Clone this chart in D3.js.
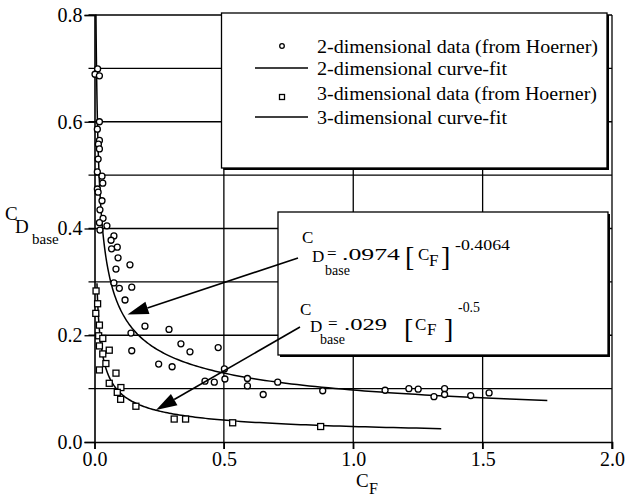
<!DOCTYPE html>
<html>
<head>
<meta charset="utf-8">
<script src="https://cdn.jsdelivr.net/npm/d3@7"></script>
<style>
  body { margin: 0; background: #fff; }
</style>
</head>
<body>
<div id="chart"></div>
<script>
/* 2-dimensional data (from Hoerner): [C_F, C_D_base] */
const data2D = [
  [0.012, 0.699], [0.002, 0.689], [0.019, 0.686], [0.019, 0.600], [0.011, 0.586],
  [0.019, 0.565], [0.015, 0.558], [0.019, 0.549], [0.014, 0.530], [0.011, 0.506],
  [0.029, 0.498], [0.032, 0.485], [0.011, 0.474], [0.014, 0.468], [0.029, 0.452],
  [0.021, 0.435], [0.033, 0.419], [0.019, 0.411], [0.048, 0.405], [0.021, 0.397],
  [0.075, 0.386], [0.064, 0.378], [0.088, 0.365], [0.066, 0.362], [0.091, 0.345],
  [0.137, 0.332], [0.083, 0.324], [0.075, 0.298], [0.096, 0.288], [0.144, 0.290],
  [0.118, 0.266], [0.195, 0.217], [0.288, 0.211], [0.141, 0.204], [0.334, 0.184],
  [0.369, 0.169], [0.144, 0.171], [0.248, 0.146], [0.300, 0.141], [0.478, 0.177],
  [0.502, 0.137], [0.427, 0.114], [0.463, 0.112], [0.504, 0.118], [0.591, 0.119],
  [0.591, 0.105], [0.708, 0.112], [0.652, 0.089], [0.882, 0.096], [1.123, 0.097],
  [1.215, 0.100], [1.251, 0.099], [1.312, 0.085], [1.353, 0.100], [1.353, 0.089],
  [1.454, 0.087], [1.525, 0.092]
]

/* 3-dimensional data (from Hoerner) */
const data3D = [
  [0.006, 0.283], [0.012, 0.259], [0.005, 0.241], [0.019, 0.219], [0.016, 0.199],
  [0.032, 0.194], [0.019, 0.180], [0.057, 0.172], [0.032, 0.165], [0.044, 0.147],
  [0.019, 0.135], [0.083, 0.129], [0.057, 0.110], [0.102, 0.102], [0.088, 0.093],
  [0.101, 0.080], [0.160, 0.067], [0.308, 0.043], [0.352, 0.043], [0.534, 0.036],
  [0.874, 0.029]
]

/* curve fits C_D = coef * C_F ^ exp, drawn over the C_F range shown */
const fitCoefs = [0.0974, 0.029]
const fitExps = [-0.4064, -0.5]
const fitRanges = [[0.0056, 1.75], [0.0095, 1.34]]

const xTicks = [0, 0.5, 1.0, 1.5, 2.0]
const yTicks = [0, 0.2, 0.4, 0.6, 0.8]
const yGrid = [0.1, 0.2, 0.3, 0.4, 0.5, 0.6, 0.7, 0.8]

const legendLabels = [
  "2-dimensional data (from Hoerner)",
  "2-dimensional curve-fit",
  "3-dimensional data (from Hoerner)",
  "3-dimensional curve-fit"
]

const width = 628
const height = 498
const serif = "'Liberation Serif', 'DejaVu Serif', serif"

const x = d3.scaleLinear().domain([0, 2]).range([94.5, 612])
const y = d3.scaleLinear().domain([0, 0.8]).range([442, 15])

const svg = d3.select("#chart").append("svg")
  .attr("width", width)
  .attr("height", height)
  .attr("font-family", serif)

/* grid */
svg.append("g")
  .selectAll("line")
  .data(yGrid)
  .join("line")
  .attr("x1", x(0) - 6).attr("x2", x(2))
  .attr("y1", d => y(d)).attr("y2", d => y(d))
  .attr("stroke", "#000").attr("stroke-width", 1.3)

svg.append("g")
  .selectAll("line")
  .data(xTicks.slice(1))
  .join("line")
  .attr("x1", d => x(d)).attr("x2", d => x(d))
  .attr("y1", y(0.8)).attr("y2", y(0) + 7)
  .attr("stroke", "#000").attr("stroke-width", 1.3)

/* axes */
const yAxis = svg.append("g")
  .attr("transform", `translate(${x(0)},0)`)
  .call(d3.axisLeft(y).tickValues(yTicks).tickSize(10).tickFormat(d3.format(".1f")))
yAxis.attr("font-family", null)
yAxis.select(".domain").attr("stroke-width", 1.6)
yAxis.selectAll(".tick line").attr("stroke-width", 1.3)
yAxis.selectAll("text")
  .attr("x", -12)
  .attr("font-size", 20)

const xAxis = svg.append("g")
  .attr("transform", `translate(0,${y(0)})`)
  .call(d3.axisBottom(x).tickValues(xTicks).tickSize(7).tickFormat(d3.format(".1f")))
xAxis.attr("font-family", null)
xAxis.select(".domain").attr("stroke-width", 1.6)
xAxis.selectAll(".tick line").attr("stroke-width", 1.3)
xAxis.selectAll("text")
  .attr("y", 10)
  .attr("font-size", 20)

/* curve fits */
const line = d3.line().x(d => x(d[0])).y(d => y(d[1]))
fitCoefs.forEach((c, i) => {
  const [lo, hi] = fitRanges[i]
  const pts = d3.range(0, 1.0001, 0.005).map(t => {
    const cf = lo * Math.pow(hi / lo, t)
    return [cf, c * Math.pow(cf, fitExps[i])]
  })
  svg.append("path")
    .datum(pts)
    .attr("d", line)
    .attr("fill", "none")
    .attr("stroke", "#000")
    .attr("stroke-width", 1.5)
})

/* data points */
svg.append("g")
  .selectAll("circle")
  .data(data2D)
  .join("circle")
  .attr("cx", d => x(d[0]))
  .attr("cy", d => y(d[1]))
  .attr("r", 3)
  .attr("fill", "#fff")
  .attr("stroke", "#000")
  .attr("stroke-width", 1.3)

svg.append("g")
  .selectAll("rect")
  .data(data3D)
  .join("rect")
  .attr("x", d => x(d[0]) - 3)
  .attr("y", d => y(d[1]) - 3)
  .attr("width", 6)
  .attr("height", 6)
  .attr("fill", "#fff")
  .attr("stroke", "#000")
  .attr("stroke-width", 1.3)

/* boxes with a little drop shadow */
function box(x0, y0, x1, y1) {
  svg.append("rect")
    .attr("x", x0 + 2).attr("y", y0 + 2)
    .attr("width", x1 - x0).attr("height", y1 - y0)
    .attr("fill", "#000")
  svg.append("rect")
    .attr("x", x0).attr("y", y0)
    .attr("width", x1 - x0).attr("height", y1 - y0)
    .attr("fill", "#fff")
    .attr("stroke", "#000")
    .attr("stroke-width", 1.3)
}

/* legend */
box(221.5, 13, 607, 168)
const legendY = [53, 75, 100, 124]
const legendW = [281, 190, 280, 190]
legendLabels.forEach((t, i) => {
  svg.append("text")
    .attr("x", 317).attr("y", legendY[i])
    .attr("font-size", 18.5)
    .attr("textLength", legendW[i])
    .attr("lengthAdjust", "spacingAndGlyphs")
    .text(t)
})
svg.append("circle")
  .attr("cx", 282).attr("cy", 46).attr("r", 2.3)
  .attr("fill", "#fff").attr("stroke", "#000").attr("stroke-width", 1.3)
svg.append("rect")
  .attr("x", 279.5).attr("y", 94.5).attr("width", 5).attr("height", 5)
  .attr("fill", "#fff").attr("stroke", "#000").attr("stroke-width", 1.3)
;[68, 117].forEach(ly => {
  svg.append("line")
    .attr("x1", 255).attr("x2", 308).attr("y1", ly).attr("y2", ly)
    .attr("stroke", "#000").attr("stroke-width", 1.5)
})

/* equation box */
box(278, 212, 608, 355)

function txt(s, tx, ty, size, len) {
  const t = svg.append("text")
    .attr("x", tx).attr("y", ty)
    .attr("font-size", size)
    .text(s)
  if (len) t.attr("textLength", len).attr("lengthAdjust", "spacingAndGlyphs")
  return t
}

// C_Dbase = .0974 [C_F]^-0.4064
txt("C", 302, 243, 17)
txt("D", 312, 262, 17)
txt("base", 325, 275, 14)
txt("=", 327, 259, 17)
txt(".0974", 342, 260, 17, 58)
txt("[", 405, 266, 28)
txt("C", 418, 260, 17)
txt("F", 429, 266, 17)
txt("]", 441, 266, 28)
txt("-0.4064", 455, 250, 14, 55)

// C_Dbase = .029 [C_F]^-0.5
txt("C", 300, 315, 17)
txt("D", 310, 332, 17)
txt("base", 320, 344, 14)
txt("=", 328, 329, 17)
txt(".029", 344, 330, 17, 43)
txt("[", 404, 338, 28)
txt("C", 415, 330, 17)
txt("F", 427, 335, 17)
txt("]", 444, 338, 28)
txt("-0.5", 458, 312, 14, 22)

/* arrows from equations to curves */
const arrows = [
  [[298, 258], [127.5, 314.5]],
  [[300, 327], [156, 410]]
]
arrows.forEach(([from, to]) => {
  const ang = Math.atan2(to[1] - from[1], to[0] - from[0])
  const len = 21, half = 6.5
  const bx = to[0] - len * Math.cos(ang), by = to[1] - len * Math.sin(ang)
  svg.append("line")
    .attr("x1", from[0]).attr("y1", from[1])
    .attr("x2", bx).attr("y2", by)
    .attr("stroke", "#000").attr("stroke-width", 1.6)
  const px = -Math.sin(ang) * half, py = Math.cos(ang) * half
  svg.append("path")
    .attr("d", `M${to[0]},${to[1]}L${bx + px},${by + py}L${bx - px},${by - py}Z`)
    .attr("fill", "#000")
})

/* axis titles */
txt("C", 5, 220, 19)
txt("D", 15, 233, 19)
txt("base", 32, 244, 15)

txt("C", 356, 487, 19)
txt("F", 369, 494, 16)

svg.selectAll("text")
  .style("font-family", serif)
  .attr("fill", "#000")
</script>
</body>
</html>
